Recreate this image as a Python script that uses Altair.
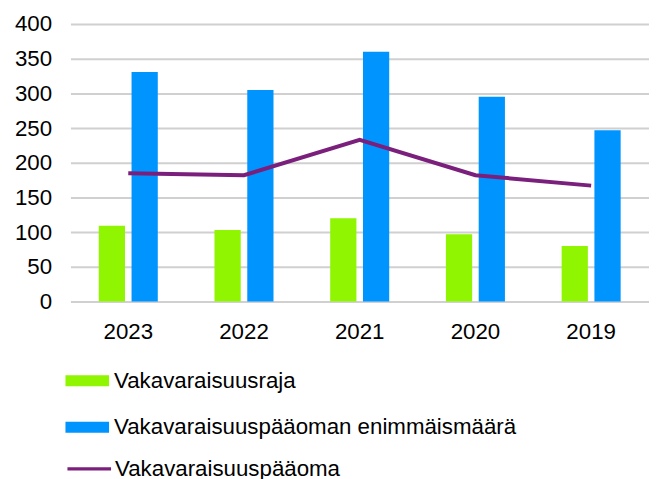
import altair as alt
import pandas as pd

years = ["2023", "2022", "2021", "2020", "2019"]
raja = [109, 103, 120, 97, 80]
enimmaismaara = [331, 305, 360, 295, 247]
paaoma = [185, 182, 233, 182, 167]
y_ticks = [0, 50, 100, 150, 200, 250, 300, 350, 400]

s_raja = "Vakavaraisuusraja"
s_enim = "Vakavaraisuuspääoman enimmäismäärä"
s_paa = "Vakavaraisuuspääoma"

bars_df = pd.DataFrame({
    "year": years * 2,
    "series": [s_raja] * len(years) + [s_enim] * len(years),
    "value": raja + enimmaismaara,
})
line_df = pd.DataFrame({"year": years, "series": [s_paa] * len(years), "value": paaoma})

FONT = "Liberation Sans"
FS = 22.5

x = alt.X("year:N", sort=years, title=None,
          scale=alt.Scale(paddingInner=0.49, paddingOuter=0.245),
          axis=alt.Axis(labelAngle=0, labelFontSize=FS, labelColor="#000000",
                        labelPadding=19, domain=False, ticks=False, tickSize=0, grid=False))
y = alt.Y("value:Q", title=None,
          scale=alt.Scale(domain=[0, 400], nice=False),
          axis=alt.Axis(values=y_ticks,
                        labelFontSize=FS, labelColor="#000000", labelPadding=19,
                        labelOverlap=False,
                        domain=False, ticks=False, tickSize=0,
                        grid=True, gridColor="#d0d0d0", gridWidth=2))

bars = alt.Chart(bars_df).mark_bar().encode(
    x=x,
    xOffset=alt.XOffset("series:N", sort=[s_raja, s_enim],
                        scale=alt.Scale(paddingInner=0.2)),
    y=y,
    color=alt.Color("series:N", sort=[s_raja, s_enim], title=None,
                    scale=alt.Scale(domain=[s_raja, s_enim], range=["#8ff500", "#0094ff"]),
                    legend=alt.Legend(orient="none", legendX=-5, legendY=338, padding=0,
                                      symbolType="M-1,-0.25H1V0.25H-1Z", symbolSize=1936,
                                      symbolStrokeWidth=0, symbolOpacity=1,
                                      labelFontSize=FS, labelColor="#000000", labelOffset=5,
                                      rowPadding=13, labelLimit=600)),
)

line = alt.Chart(line_df).mark_line(strokeWidth=4).encode(
    x=x,
    y=y,
    stroke=alt.Stroke("series:N", title=None,
                      scale=alt.Scale(domain=[s_paa], range=["#7b1f7c"]),
                      legend=alt.Legend(orient="none", legendX=-5, legendY=425, padding=0,
                                        symbolType="M-1,0H1", symbolSize=1936,
                                        symbolStrokeWidth=3.5,
                                        labelFontSize=FS, labelColor="#000000", labelOffset=2,
                                        rowPadding=0, labelLimit=600)),
)

chart = alt.layer(bars, line).properties(
    width=584, height=280,
    autosize=alt.AutoSizeParams(type="none"),
    padding={"left": 63, "top": 14, "right": 0, "bottom": 177},
).configure(font=FONT).configure_view(stroke=None).configure_axisY(labelOverlap=False)

chart.save("out.html", embed_options={"renderer": "svg", "actions": False})
